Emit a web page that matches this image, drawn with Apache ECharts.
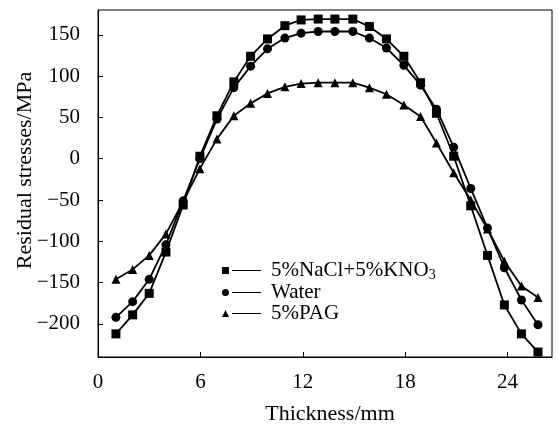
<!DOCTYPE html>
<html>
<head>
<meta charset="utf-8">
<script src="https://cdn.jsdelivr.net/npm/echarts@6/dist/echarts.min.js"></script>
<style>html,body{margin:0;padding:0;background:#fff;}#c{width:558px;height:430px;}</style>
</head>
<body>
<div id="c"></div>
<script>
var thickness = [1.05, 2.03, 3.0, 3.98, 4.99, 5.97, 6.97, 7.96, 8.94, 9.93, 10.95, 11.9, 12.9, 13.88, 14.93, 15.9, 16.9, 17.92, 18.9, 19.83, 20.84, 21.84, 22.82, 23.81, 24.81, 25.78];
var naclKno3 = [-212, -189, -163, -113, -56, 3, 52, 93, 124, 145, 161, 168, 169, 169, 169, 160, 145, 124, 92, 55, 3, -57, -117, -177, -212, -234];
var water = [-192, -173, -146, -104, -51, 0, 48, 86, 112, 133, 146, 152, 154, 154, 154, 146, 134, 113, 89, 60, 14, -36, -84, -132, -171, -201];
var pag = [-146, -134, -117, -91, -52, -12, 24, 52, 67, 79, 87, 91, 92, 92, 92, 86, 78, 65, 51, 19, -17, -50, -85, -124, -154, -168];
var xTicks = [0, 6, 12, 18, 24];
var yTicks = [-200, -150, -100, -50, 0, 50, 100, 150];
var seriesNames = ['5%NaCl+5%KNO3', 'Water', '5%PAG'];

var FONT = 'Liberation Serif';
function pairs(ys) { return ys.map(function (v, i) { return [thickness[i], v]; }); }
function mkSeries(name, ys, sym, size) {
  return {
    name: name, type: 'line', data: pairs(ys), symbol: sym, symbolSize: size,
    lineStyle: { color: '#000', width: 1.8 }, itemStyle: { color: '#000' },
    animation: false, z: 3
  };
}
var chart = echarts.init(document.getElementById('c'), null, { renderer: 'canvas' });
chart.setOption({
  backgroundColor: '#fff',
  animation: false,
  grid: { left: 98, right: 6, top: 10, bottom: 64, containLabel: false, show: true, borderColor: '#000', borderWidth: 1 },
  legend: {
    orient: 'vertical', left: 217, top: 255, itemGap: 0,
    itemWidth: 39, itemHeight: 8,
    textStyle: {
      fontFamily: FONT, fontSize: 21, color: '#000', lineHeight: 21, padding: [0, 0, 0, 5],
      rich: { sub: { fontFamily: FONT, fontSize: 14, color: '#000', padding: [9, 0, 0, 0] } }
    },
    formatter: function (n) { return n === '5%NaCl+5%KNO3' ? '5%NaCl+5%KNO{sub|3}' : n; },
    data: [
      { name: seriesNames[0], icon: 'path://M0,0.5h7v7h-7z M10,3.5h29v1h-29z' },
      { name: seriesNames[1], icon: 'path://M0,4a3.5,3.5 0 1,0 7,0a3.5,3.5 0 1,0 -7,0z M10,3.5h29v1h-29z' },
      { name: seriesNames[2], icon: 'path://M3.5,0.5L7,7.5H0z M10,3.5h29v1h-29z' }
    ]
  },
  xAxis: {
    type: 'value', min: 0, max: 26.6, position: 'bottom',
    name: 'Thickness/mm', nameLocation: 'middle', nameGap: 46, nameMoveOverlap: false,
    nameTextStyle: { fontFamily: FONT, fontSize: 22, color: '#000', padding: [0, 0, 0, 10] },
    axisLine: { show: true, onZero: false, lineStyle: { color: '#000', width: 1 } },
    axisTick: { show: true, inside: true, length: 5, customValues: xTicks, lineStyle: { color: '#000' } },
    axisLabel: { customValues: xTicks, fontFamily: FONT, fontSize: 21, color: '#000', margin: 15 },
    splitLine: { show: false }
  },
  yAxis: {
    type: 'value', min: -240, max: 180, position: 'left',
    name: 'Residual stresses/MPa', nameLocation: 'middle', nameGap: 62, nameRotate: 90, nameMoveOverlap: false,
    nameTextStyle: { fontFamily: FONT, fontSize: 22, color: '#000', padding: [0, 0, 0, 26] },
    axisLine: { show: true, onZero: false, lineStyle: { color: '#000', width: 1 } },
    axisTick: { show: true, inside: true, length: 5, customValues: yTicks, lineStyle: { color: '#000' } },
    axisLabel: {
      customValues: yTicks, fontFamily: FONT, fontSize: 21, color: '#000', margin: 18,
      formatter: function (v) { return String(v).replace('-', '\u2212'); }
    },
    splitLine: { show: false }
  },
  series: [
    mkSeries(seriesNames[0], naclKno3, 'rect', 9),
    mkSeries(seriesNames[1], water, 'circle', 9),
    mkSeries(seriesNames[2], pag, 'triangle', 9)
  ]
});
</script>
</body>
</html>
